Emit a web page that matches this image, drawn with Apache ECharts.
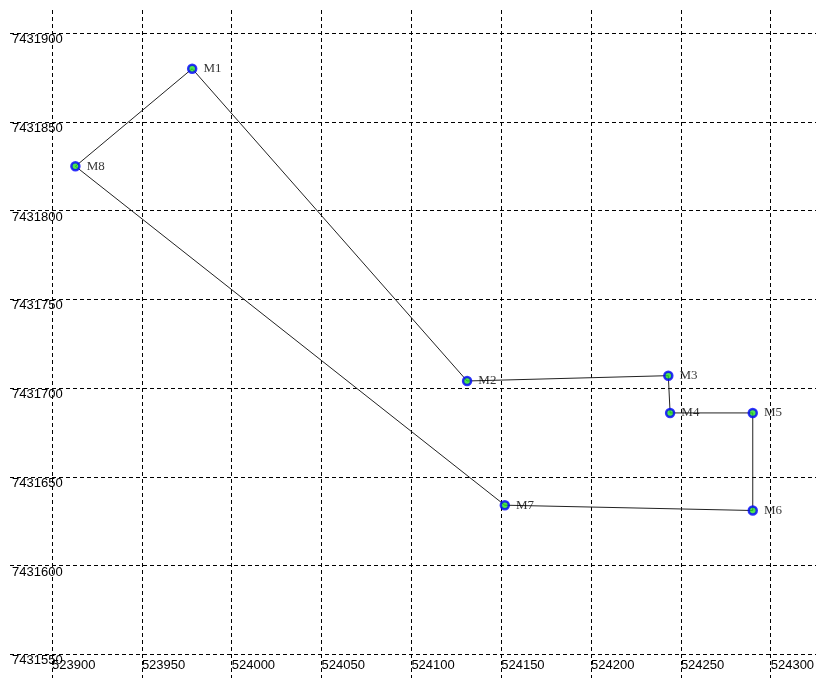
<!DOCTYPE html>
<html>
<head>
<meta charset="utf-8">
<script src="https://cdn.jsdelivr.net/npm/echarts@6.0.0/dist/echarts.min.js"></script>
<style>
  html, body { margin: 0; padding: 0; background: #fff; }
  #chart { width: 818px; height: 678px; }
</style>
</head>
<body>
<div id="chart"></div>
<script>
// survey points (easting / northing), in traverse order
const pointNames = ["M1", "M2", "M3", "M4", "M5", "M6", "M7", "M8"];
const eastings = [523978, 524131, 524243, 524244, 524290, 524290, 524152, 523913];
const northings = [7431880, 7431704, 7431707, 7431686, 7431686, 7431631, 7431634, 7431825];

// grid tick values
const xTicks = [523900, 523950, 524000, 524050, 524100, 524150, 524200, 524250, 524300];
const yTicks = [7431550, 7431600, 7431650, 7431700, 7431750, 7431800, 7431850, 7431900];

const chart = echarts.init(document.getElementById("chart"));

const pts = pointNames.map((n, i) => ({ name: n, value: [eastings[i], northings[i]] }));
// closed polygon: back to first point
const ring = pts.map(p => p.value).concat([pts[0].value]);

const gridLine = {
  show: true,
  lineStyle: { color: "#000", width: 1, type: [4, 3] }
};
const labelFont = {
  color: "#000",
  fontFamily: "Liberation Sans",
  fontSize: 13
};

const option = {
  animation: false,
  backgroundColor: "#fff",
  grid: { left: 10, right: 2, top: 10, bottom: 0, containLabel: false },
  xAxis: {
    type: "value",
    min: 523876.6,
    max: 524325.2,
    axisLine: { show: false },
    axisTick: { show: false, customValues: xTicks },
    splitLine: gridLine,
    axisLabel: Object.assign({
      inside: true,
      customValues: xTicks,
      align: "left",
      verticalAlign: "middle",
      margin: 13,
      formatter: v => String(v)
    }, labelFont)
  },
  yAxis: {
    type: "value",
    min: 7431536.6,
    max: 7431913.1,
    axisLine: { show: false },
    axisTick: { show: false, customValues: yTicks },
    splitLine: gridLine,
    axisLabel: Object.assign({
      inside: true,
      customValues: yTicks,
      align: "left",
      verticalAlign: "top",
      margin: 2,
      formatter: v => String(v)
    }, labelFont)
  },
  series: [
    {
      type: "line",
      data: ring,
      symbol: "none",
      lineStyle: { color: "#222", width: 1 },
      z: 2
    },
    {
      type: "scatter",
      data: pts,
      symbol: "circle",
      symbolSize: 8,
      itemStyle: { color: "#22dd22", borderColor: "#0000ff", borderWidth: 2.5 },
      label: {
        show: true,
        position: "right",
        distance: 6,
        formatter: "{b}",
        color: "#000",
        fontFamily: "Liberation Serif",
        fontSize: 13
      },
      z: 3
    }
  ]
};

chart.setOption(option);
</script>
</body>
</html>
